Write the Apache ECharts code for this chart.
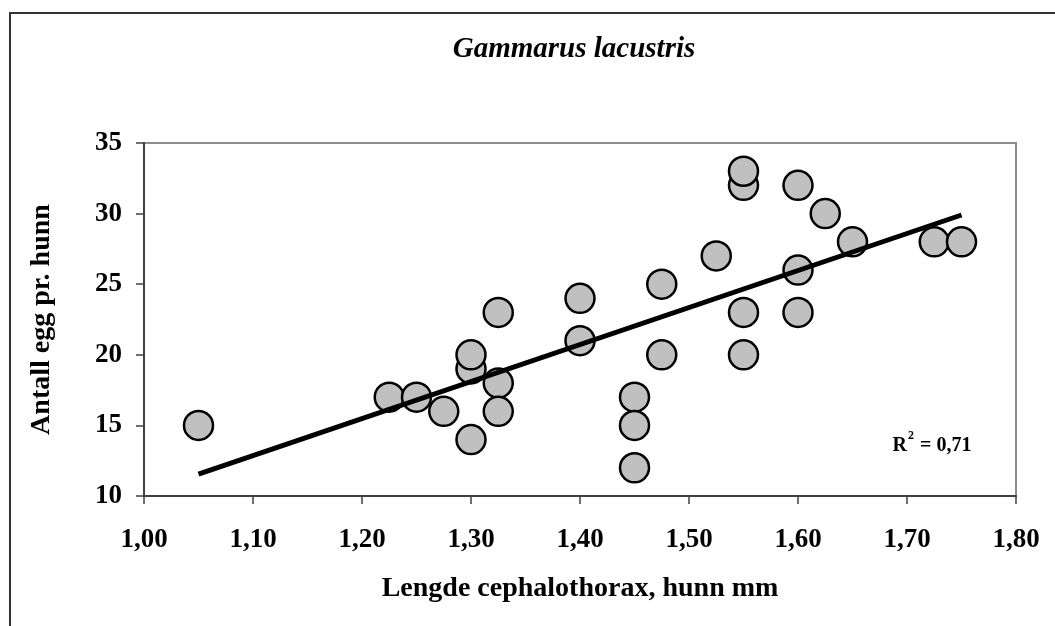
<!DOCTYPE html>
<html>
<head>
<meta charset="utf-8">
<title>Gammarus lacustris</title>
<script src="https://cdn.jsdelivr.net/npm/echarts@6/dist/echarts.min.js"></script>
<style>
  html, body { margin: 0; padding: 0; background: #fff; }
  #chart { width: 1055px; height: 626px; }
</style>
</head>
<body>
<div id="chart"></div>
<script>
// lengde cephalothorax (mm) og antall egg pr. hunn
var lengths = [1.05, 1.225, 1.25, 1.275, 1.30, 1.30, 1.30, 1.325, 1.325, 1.325, 1.40, 1.40,
  1.45, 1.45, 1.45, 1.475, 1.475, 1.525, 1.55, 1.55, 1.55, 1.55, 1.60, 1.60, 1.60, 1.625,
  1.65, 1.725, 1.75]
var eggs = [15, 17, 17, 16, 14, 19, 20, 23, 18, 16, 24, 21,
  17, 15, 12, 25, 20, 27, 32, 33, 23, 20, 32, 26, 23, 30,
  28, 28, 28]

var xTickLabels = ['1,00', '1,10', '1,20', '1,30', '1,40', '1,50', '1,60', '1,70', '1,80']
var yTickLabels = ['10', '15', '20', '25', '30', '35']
var r2Text = '0,71'

var serif = "'Liberation Serif', 'Times New Roman', serif"

// lineær trendlinje (minste kvadraters metode)
function trend(xs, ys) {
  var n = xs.length, mx = 0, my = 0
  for (var i = 0; i < n; i++) { mx += xs[i]; my += ys[i] }
  mx /= n; my /= n
  var sxy = 0, sxx = 0
  for (var j = 0; j < n; j++) {
    sxy += (xs[j] - mx) * (ys[j] - my)
    sxx += (xs[j] - mx) * (xs[j] - mx)
  }
  var b = sxy / sxx
  var a = my - b * mx
  var x0 = Math.min.apply(null, xs), x1 = Math.max.apply(null, xs)
  return [[x0, a + b * x0], [x1, a + b * x1]]
}

var points = lengths.map(function (x, i) { return [x, eggs[i]] })

var chart = echarts.init(document.getElementById('chart'))
chart.setOption({
  animation: false,
  title: {
    text: 'Gammarus lacustris',
    left: 569,
    top: 30,
    textAlign: 'center',
    textStyle: { fontFamily: serif, fontSize: 29, fontStyle: 'italic', fontWeight: 'bold', color: '#000' }
  },
  graphic: [
    {
      type: 'rect',
      shape: { x: 10, y: 13, width: 1100, height: 700 },
      style: { fill: 'none', stroke: '#333', lineWidth: 2 },
      silent: true
    },
    {
      type: 'text',
      x: 932,
      y: 443,
      style: {
        text: '{b|R}{s|2}{b| = ' + r2Text + '}',
        align: 'center',
        verticalAlign: 'middle',
        rich: {
          b: { fontFamily: serif, fontSize: 20, fontWeight: 'bold', fill: '#000', color: '#000', verticalAlign: 'bottom' },
          s: { fontFamily: serif, fontSize: 12, fontWeight: 'bold', fill: '#000', color: '#000', verticalAlign: 'top', padding: [0, 1, 14, 1] }
        }
      }
    }
  ],
  grid: {
    left: 144,
    right: 39,
    top: 143,
    bottom: 130,
    show: true,
    borderColor: '#8c8c8c',
    borderWidth: 2,
    containLabel: false,
    outerBoundsMode: 'none'
  },
  xAxis: {
    type: 'value',
    min: 1,
    max: 1.8,
    interval: 0.1,
    name: 'Lengde cephalothorax, hunn mm',
    nameLocation: 'middle',
    nameGap: 79,
    nameTextStyle: { fontFamily: serif, fontSize: 28, fontWeight: 'bold', color: '#000' },
    axisLine: { show: true, onZero: false, lineStyle: { color: '#404040', width: 2 } },
    axisTick: { show: true, length: 8, lineStyle: { color: '#404040', width: 1.5 } },
    axisLabel: {
      margin: 31,
      fontFamily: serif,
      fontSize: 27,
      fontWeight: 'bold',
      color: '#000',
      formatter: function (v) { return xTickLabels[Math.round((v - 1) / 0.1)] }
    },
    splitLine: { show: false }
  },
  yAxis: {
    type: 'value',
    min: 10,
    max: 35,
    interval: 5,
    name: 'Antall egg pr. hunn',
    nameLocation: 'middle',
    nameGap: 88,
    nameTextStyle: { fontFamily: serif, fontSize: 28, fontWeight: 'bold', color: '#000' },
    axisLine: { show: true, onZero: false, lineStyle: { color: '#404040', width: 2 } },
    axisTick: { show: true, length: 8, lineStyle: { color: '#404040', width: 1.5 } },
    axisLabel: {
      margin: 22,
      fontFamily: serif,
      fontSize: 27,
      fontWeight: 'bold',
      color: '#000',
      formatter: function (v) { return yTickLabels[Math.round((v - 10) / 5)] }
    },
    splitLine: { show: false }
  },
  series: [
    {
      type: 'scatter',
      data: points,
      symbol: 'circle',
      symbolSize: 29,
      itemStyle: { color: '#c0c0c0', borderColor: '#000', borderWidth: 2.5, opacity: 1 },
      z: 2
    },
    {
      type: 'line',
      data: trend(lengths, eggs),
      symbol: 'none',
      lineStyle: { color: '#000', width: 5 },
      z: 3
    }
  ]
})
</script>
</body>
</html>
